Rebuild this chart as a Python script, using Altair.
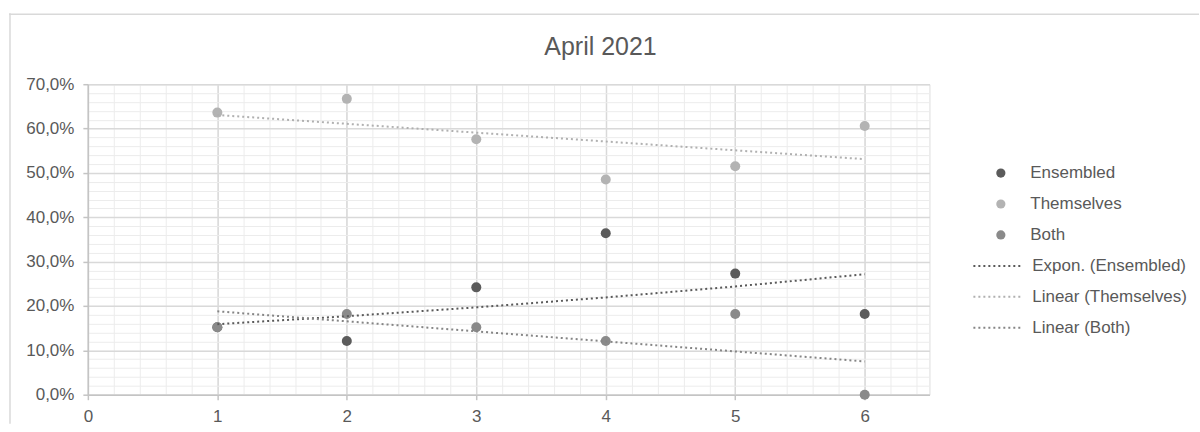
import altair as alt
import pandas as pd

# Test runs on the x axis and the share of each answer group per run
runs = [1, 2, 3, 4, 5, 6]
ensembled = [0.152, 0.121, 0.242, 0.364, 0.273, 0.182]
themselves = [0.636, 0.667, 0.576, 0.485, 0.515, 0.606]
both = [0.152, 0.182, 0.152, 0.121, 0.182, 0.0]

series_names = ["Ensembled", "Themselves", "Both"]
series_colors = ["#5b5b5b", "#b3b3b3", "#8a8a8a"]
trend_names = ["Expon. (Ensembled)", "Linear (Themselves)", "Linear (Both)"]
trend_colors = ["#595959", "#b0b0b0", "#858585"]

x_ticks = [0, 1, 2, 3, 4, 5, 6]
y_ticks = [0.0, 0.1, 0.2, 0.3, 0.4, 0.5, 0.6, 0.7]
x_minor = [i / 5 for i in range(0, 33)]
y_minor = [i / 50 for i in range(0, 36)]

FONT = "Liberation Sans"
TEXT = "#595959"

rows = []
for name, vals in zip(series_names, [ensembled, themselves, both]):
    for r, v in zip(runs, vals):
        rows.append({"run": r, "share": v, "series": name})
df = pd.DataFrame(rows)

W, H = 843, 311
x_scale = alt.Scale(domain=[0, 6.5], nice=False, zero=False)
y_scale = alt.Scale(domain=[0, 0.7], nice=False)
pct_expr = "replace(format(datum.value, '.1%'), '.', ',')"

base = alt.Chart(df)

# light minor grid (drawn through a second, label-less pair of axes)
minor = base.mark_point(opacity=0).encode(
    x=alt.X("run:Q", scale=x_scale,
            axis=alt.Axis(orient="top", values=x_minor, labels=False, ticks=False,
                          domain=False, grid=True, gridColor="#ececec", gridWidth=1,
                          title=None)),
    y=alt.Y("share:Q", scale=y_scale,
            axis=alt.Axis(orient="right", values=y_minor, labels=False, ticks=False,
                          domain=False, grid=True, gridColor="#ececec", gridWidth=1,
                          title=None)),
)

legend_common = dict(title=None, labelFontSize=17, labelFont=FONT, labelColor=TEXT,
                     rowPadding=13, padding=0, clipHeight=18)

points = base.mark_point(filled=True, size=100, opacity=1).encode(
    x=alt.X("run:Q", scale=x_scale,
            axis=alt.Axis(orient="bottom", values=x_ticks, format="d", title=None,
                          grid=True, gridColor="#d9d9d9", gridWidth=1.5,
                          domainColor="#c4c4c4", domainWidth=1.5,
                          tickColor="#c4c4c4", tickWidth=1.5, tickSize=5,
                          labelPadding=9, labelFontSize=17, labelFont=FONT,
                          labelColor=TEXT, labelFlush=False)),
    y=alt.Y("share:Q", scale=y_scale,
            axis=alt.Axis(orient="left", values=y_ticks, labelExpr=pct_expr, title=None,
                          grid=True, gridColor="#d9d9d9", gridWidth=1.5,
                          domainColor="#c4c4c4", domainWidth=1.5,
                          tickColor="#c4c4c4", tickWidth=1.5, tickSize=5,
                          labelPadding=9, labelFontSize=17, labelFont=FONT,
                          labelColor=TEXT, labelFlush=False)),
    color=alt.Color("series:N",
                    scale=alt.Scale(domain=series_names, range=series_colors),
                    legend=alt.Legend(orient="none", legendX=906, legendY=80,
                                      symbolType="circle", symbolSize=85,
                                      symbolStrokeWidth=0, labelOffset=21,
                                      **legend_common)),
)

trend_color = alt.Color("trend:N",
                        scale=alt.Scale(domain=trend_names, range=trend_colors),
                        legend=alt.Legend(orient="none", legendX=886, legendY=173,
                                          symbolType="stroke", symbolSize=2500,
                                          symbolStrokeWidth=2, symbolDash=[2, 3],
                                          labelOffset=8, **legend_common))

line_style = dict(strokeWidth=2, strokeDash=[2, 3])

# exponential trend: least-squares line through ln(share), mapped back with exp
expon = base.transform_filter(
    alt.datum.series == "Ensembled"
).transform_calculate(
    ly="log(datum.share)",
    xy="datum.run * log(datum.share)",
    xx="datum.run * datum.run",
).transform_joinaggregate(
    mx="mean(run)", my="mean(ly)", mxy="mean(xy)", mxx="mean(xx)"
).transform_calculate(
    slope="(datum.mxy - datum.mx * datum.my) / (datum.mxx - datum.mx * datum.mx)"
).transform_calculate(
    fit="exp(datum.my + datum.slope * (datum.run - datum.mx))",
    trend="'Expon. (' + datum.series + ')'",
).mark_line(**line_style).encode(
    x=alt.X("run:Q", scale=x_scale, axis=None),
    y=alt.Y("fit:Q", scale=y_scale, axis=None),
    color=trend_color,
)

linear = base.transform_filter(
    alt.datum.series != "Ensembled"
).transform_regression(
    "run", "share", method="linear", groupby=["series"], extent=[1, 6]
).transform_calculate(
    trend="'Linear (' + datum.series + ')'"
).mark_line(**line_style).encode(
    x=alt.X("run:Q", scale=x_scale, axis=None),
    y=alt.Y("share:Q", scale=y_scale, axis=None),
    color=trend_color,
)

trends = alt.layer(expon, linear)

# chart frame: top and left edges
frame_src = alt.Chart(pd.DataFrame({"k": [0]}))
frame_top = frame_src.mark_rule(color="#d9d9d9", strokeWidth=1.5).encode(
    x=alt.value(-79), x2=alt.value(1113), y=alt.value(-70))
frame_left = frame_src.mark_rule(color="#d9d9d9", strokeWidth=1.5).encode(
    x=alt.value(-78), y=alt.value(-71), y2=alt.value(340))

chart = alt.layer(
    minor, points, trends, frame_top, frame_left
).resolve_scale(
    color="independent"
).resolve_axis(
    x="independent", y="independent"
).properties(
    width=W, height=H,
    padding={"left": 8, "top": 12, "right": 0, "bottom": 0},
    title=alt.TitleParams("April 2021", fontSize=25, font=FONT, color=TEXT,
                          fontWeight="normal", anchor="middle", frame="group",
                          dx=92, offset=-72, baseline="bottom"),
).configure_view(
    stroke=None
).configure(
    background="white"
)

chart.save("out.html", embed_options={"renderer": "svg", "actions": False})
